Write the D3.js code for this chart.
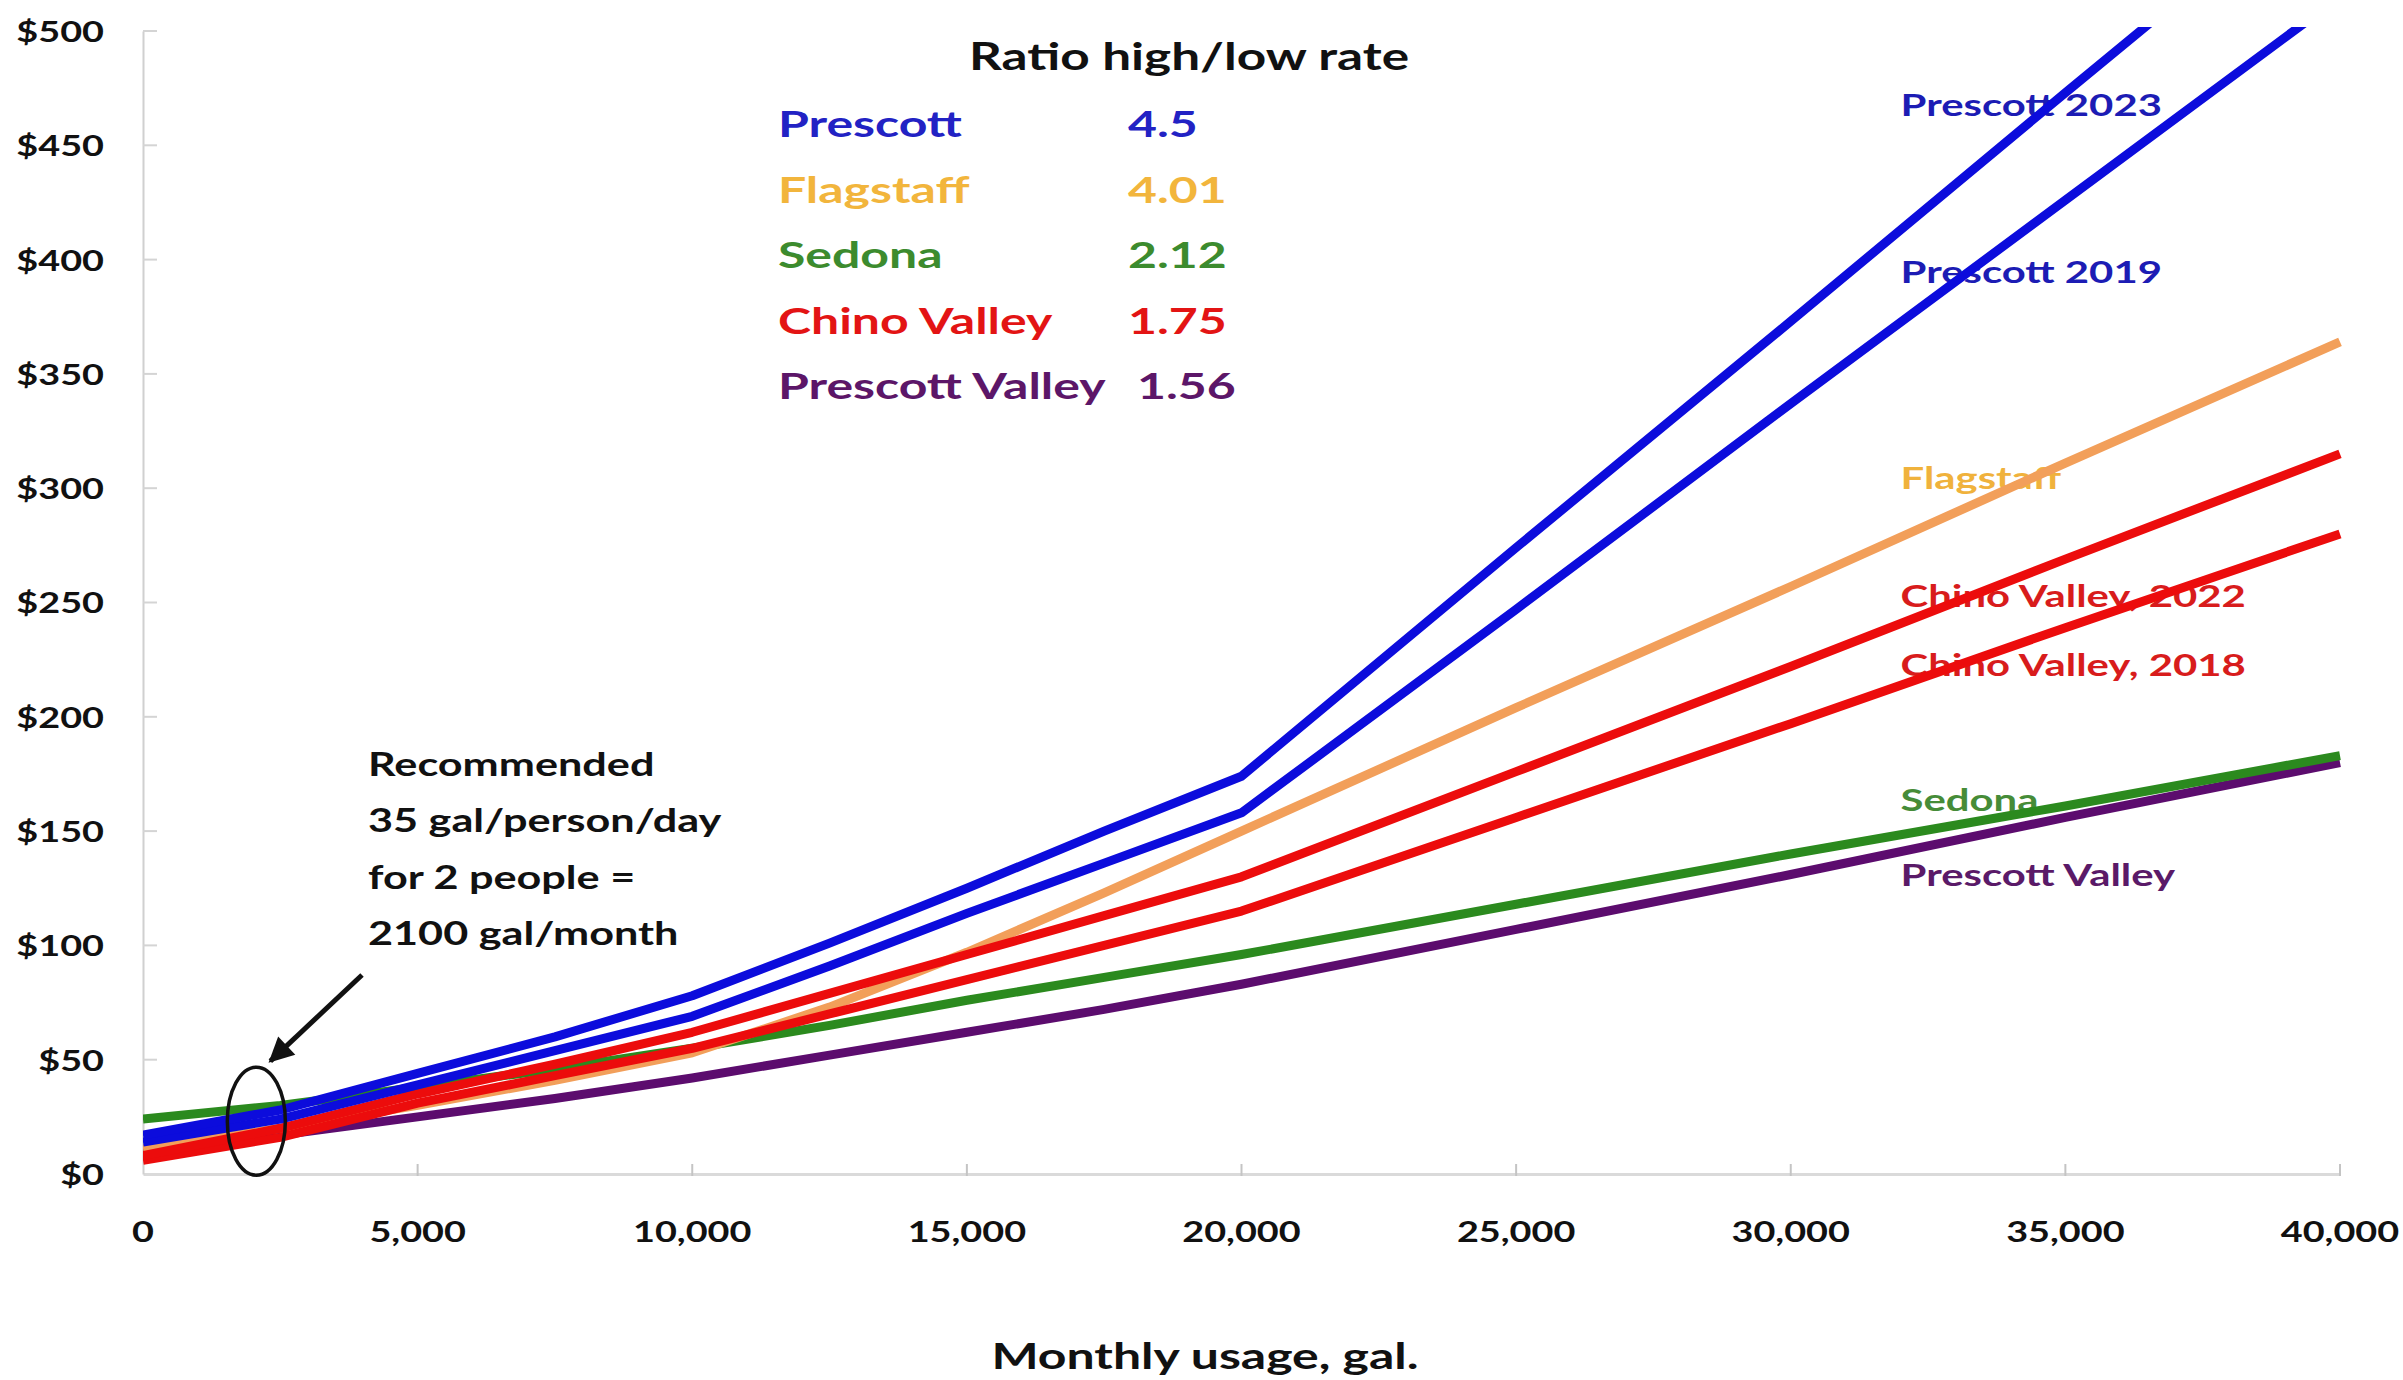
<!DOCTYPE html>
<html>
<head>
<meta charset="utf-8">
<script src="https://cdn.jsdelivr.net/npm/d3@7"></script>
<style>
  html, body { margin: 0; padding: 0; background: #ffffff; }
  svg { display: block; }
  text { font-family: "Lato", "Open Sans", sans-serif; }
</style>
</head>
<body>
<svg id="chart" width="2403" height="1380"></svg>
<script>
// Monthly usage (gallons) at which each bill is plotted
const gallons = [0, 2500, 5000, 7500, 10000, 12500, 15000, 17500, 20000, 25000, 30000, 35000, 40000];

// Monthly water bill ($) for each utility at the usages above
const prescott2023   = [17, 28, 44, 60, 78, 101, 125, 150, 174, 274, 373, 473, 572];
const prescott2019   = [14, 24, 39, 54, 69, 91, 114, 136, 158, 247, 337, 426, 515];
const flagstaff      = [11, 20, 30, 41, 53, 73, 97, 123, 150, 204, 257, 311, 364];
const chinoValley2022 = [8, 20, 35, 48, 62, 79, 96, 113, 130, 176, 222, 269, 315];
const chinoValley2018 = [6, 16, 31, 43, 55, 70, 85, 100, 115, 156, 197, 239, 280];
const sedona         = [24, 30, 38, 46, 55, 65, 76, 86, 96, 118, 140, 161, 183];
const prescottValley = [9, 17, 25, 33, 42, 52, 62, 72, 83, 107, 131, 156, 180];

// Ratio of highest to lowest tier rate
const legendCities = ["Prescott", "Flagstaff", "Sedona", "Chino Valley", "Prescott Valley"];
const legendRatios = ["4.5", "4.01", "2.12", "1.75", "1.56"];

// Axis ticks
const xTicks = [0, 5000, 10000, 15000, 20000, 25000, 30000, 35000, 40000];
const yTicks = [0, 50, 100, 150, 200, 250, 300, 350, 400, 450, 500];

// Annotation for the recommended usage
const recommendedGallons = 2100;
const recommendedCost = 24;
const noteLines = ["Recommended", "35 gal/person/day", "for 2 people =", "2100 gal/month"];

// ---- series styling and label placement ----
const series = [
  { name: "Prescott Valley",     values: prescottValley,  stroke: "#5c0c6e", labelColor: "#5a1a68", labelAt: [32000, 131] },
  { name: "Sedona",              values: sedona,          stroke: "#2b8a1e", labelColor: "#468c38", labelAt: [32000, 164] },
  { name: "Flagstaff",           values: flagstaff,       stroke: "#f29f5a", labelColor: "#f0b23c", labelAt: [32000, 305] },
  { name: "Chino Valley, 2018",  values: chinoValley2018, stroke: "#ec0c0c", labelColor: "#d81c1c", labelAt: [32000, 223] },
  { name: "Chino Valley, 2022",  values: chinoValley2022, stroke: "#ec0c0c", labelColor: "#d81c1c", labelAt: [32000, 253] },
  { name: "Prescott 2019",       values: prescott2019,    stroke: "#0c0cdc", labelColor: "#1c1cb4", labelAt: [32000, 395] },
  { name: "Prescott 2023",       values: prescott2023,    stroke: "#0c0cdc", labelColor: "#1c1cb4", labelAt: [32000, 468] }
];
const legendColors = ["#2222c4", "#f2b53c", "#3c8b2e", "#e31414", "#5c1668"];

const svg = d3.select("#chart");
const W = 2403, H = 1380;
svg.append("rect").attr("width", W).attr("height", H).attr("fill", "#ffffff");

// Text in this chart is set wide
const SX = 1.35;

const x = d3.scaleLinear().domain([0, 40000]).range([143, 2340]);
const y = d3.scaleLinear().domain([0, 500]).range([1174, 31]);

// ---- axes ----
const xAxis = d3.axisBottom(x).tickValues(xTicks).tickSize(0).tickFormat("");
const yAxis = d3.axisLeft(y).tickValues(yTicks).tickSize(0).tickFormat("");

const gx = svg.append("g").attr("transform", `translate(0,${y(0)})`).call(xAxis);
gx.select(".domain").attr("stroke", "#dadada").attr("stroke-width", 3);
const gy = svg.append("g").attr("transform", `translate(${x(0)},0)`).call(yAxis);
gy.select(".domain").attr("stroke", "#d0d0d0").attr("stroke-width", 2);

// small inside tick marks
svg.append("g").selectAll("line").data(xTicks.slice(1)).join("line")
  .attr("x1", d => x(d)).attr("x2", d => x(d))
  .attr("y1", y(0) - 10).attr("y2", y(0) + 2)
  .attr("stroke", "#c4c4c4").attr("stroke-width", 2);
svg.append("g").selectAll("line").data(yTicks.slice(1)).join("line")
  .attr("x1", x(0)).attr("x2", x(0) + 14)
  .attr("y1", d => y(d)).attr("y2", d => y(d))
  .attr("stroke", "#d4d4d4").attr("stroke-width", 2);

// tick labels
svg.append("g").selectAll("text").data(yTicks).join("text")
  .attr("transform", d => `translate(104,${y(d)}) scale(${SX},1)`)
  .attr("text-anchor", "end").attr("dominant-baseline", "central")
  .attr("font-size", 28).attr("font-weight", 700).attr("fill", "#111")
  .text(d => "$" + d);

svg.append("g").selectAll("text").data(xTicks).join("text")
  .attr("transform", d => `translate(${x(d)},1231) scale(${SX},1)`)
  .attr("text-anchor", "middle").attr("dominant-baseline", "central")
  .attr("font-size", 28).attr("font-weight", 700).attr("fill", "#111")
  .text(d3.format(","));

// axis title
svg.append("text")
  .attr("transform", `translate(1205,1355) scale(${SX},1)`)
  .attr("text-anchor", "middle").attr("dominant-baseline", "central")
  .attr("font-size", 37).attr("font-weight", 700).attr("fill", "#111")
  .text("Monthly usage, gal.");

// ---- line labels (drawn under the lines) ----
svg.append("g").selectAll("text").data(series).join("text")
  .attr("transform", d => `translate(${x(d.labelAt[0])},${y(d.labelAt[1])}) scale(${SX},1)`)
  .attr("dominant-baseline", "central")
  .attr("font-size", 31).attr("font-weight", 700)
  .attr("fill", d => d.labelColor)
  .text(d => d.name);

// ---- lines ----
svg.append("defs").append("clipPath").attr("id", "plotClip")
  .append("rect").attr("x", x(0)).attr("y", y(500) - 4)
  .attr("width", x(40000) - x(0) + 10).attr("height", y(0) - y(500) + 20);

const line = d3.line()
  .x((d, i) => x(gallons[i]))
  .y(d => y(d));

svg.append("g").attr("clip-path", "url(#plotClip)")
  .selectAll("path").data(series).join("path")
  .attr("d", d => line(d.values))
  .attr("fill", "none")
  .attr("stroke", d => d.stroke)
  .attr("stroke-width", 9)
  .attr("stroke-linejoin", "round")
  .attr("stroke-linecap", "butt");

// ---- ratio table ----
svg.append("text")
  .attr("transform", `translate(1189,55) scale(${SX},1)`)
  .attr("text-anchor", "middle").attr("dominant-baseline", "central")
  .attr("font-size", 38).attr("font-weight", 700).attr("fill", "#111")
  .text("Ratio high/low rate");

const legend = svg.append("g");
legendCities.forEach((c, i) => {
  const cy = 123 + i * 65.5;
  legend.append("text")
    .attr("transform", `translate(778,${cy}) scale(${SX},1)`)
    .attr("dominant-baseline", "central")
    .attr("font-size", 37).attr("font-weight", 700).attr("fill", legendColors[i])
    .text(c);
  legend.append("text")
    .attr("transform", `translate(${i === 4 ? 1137 : 1128},${cy}) scale(${SX},1)`)
    .attr("dominant-baseline", "central")
    .attr("font-size", 37).attr("font-weight", 700).attr("fill", legendColors[i])
    .text(legendRatios[i]);
});

// ---- recommended-usage note ----
const note = svg.append("g");
noteLines.forEach((t, i) => {
  note.append("text")
    .attr("transform", `translate(368,${763 + i * 56.5}) scale(${SX},1)`)
    .attr("dominant-baseline", "central")
    .attr("font-size", 32).attr("font-weight", 700).attr("fill", "#111")
    .text(t);
});

svg.select("defs").append("marker")
  .attr("id", "arrowHead").attr("viewBox", "0 0 10 10")
  .attr("refX", 9).attr("refY", 5)
  .attr("markerWidth", 5.5).attr("markerHeight", 5)
  .attr("markerUnits", "strokeWidth").attr("orient", "auto")
  .append("path").attr("d", "M0,0 L10,5 L0,10 z").attr("fill", "#111");

note.append("line")
  .attr("x1", 362).attr("y1", 975)
  .attr("x2", x(recommendedGallons) + 12).attr("y2", y(recommendedCost) - 58)
  .attr("stroke", "#111").attr("stroke-width", 5)
  .attr("marker-end", "url(#arrowHead)");

note.append("ellipse")
  .attr("cx", x(recommendedGallons) - 2).attr("cy", y(recommendedCost) + 2)
  .attr("rx", 29).attr("ry", 54)
  .attr("fill", "none").attr("stroke", "#111").attr("stroke-width", 3.5);
</script>
</body>
</html>
